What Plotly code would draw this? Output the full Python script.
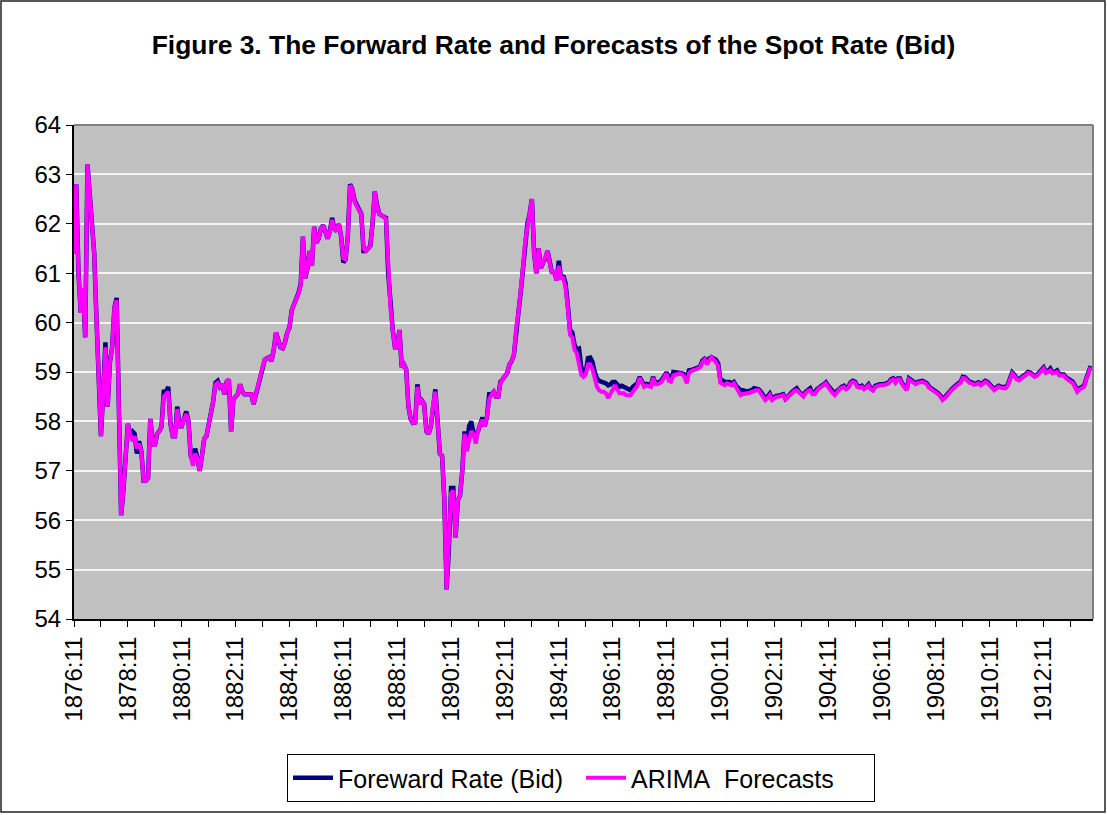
import plotly.graph_objects as go

# Monthly observations starting 1876:11
start_year, start_month = 1876, 11

forward_rate = [
    61.4, 62.8, 61.0, 60.2, 60.7, 59.7, 63.2, 62.6, 62.0, 61.4, 60.1, 58.7,
    57.7, 58.6, 59.6, 58.3, 59.2, 59.5, 60.3, 60.5, 57.9, 56.1, 56.6, 57.3,
    57.95, 57.75, 57.8, 57.75, 57.35, 57.6, 57.4, 56.8, 56.8, 56.85, 58.05,
    57.6, 57.5, 57.75, 57.8, 57.9, 58.6, 58.6, 58.7, 57.95, 57.7, 57.7, 58.3,
    57.9, 57.9, 58.05, 58.2, 58.0, 57.3, 57.2, 57.45, 57.25, 57.0, 57.3, 57.65,
    57.7, 57.95, 58.1, 58.4, 58.78, 58.82, 58.7, 58.75, 58.55, 58.8, 58.85, 57.8,
    58.45, 58.5, 58.55, 58.75, 58.6, 58.55, 58.55, 58.55, 58.55, 58.35, 58.55,
    58.7, 58.9, 59.1, 59.25, 59.28, 59.3, 59.22, 59.45, 59.8, 59.65, 59.5, 59.48,
    59.6, 59.8, 59.9, 60.25, 60.35, 60.45, 60.6, 60.78, 61.74, 60.9, 61.1, 61.45,
    61.15, 61.94, 61.62, 61.7, 61.9, 61.97, 61.85, 61.7, 61.85, 62.12, 61.9, 61.85,
    62.0, 61.75, 61.22, 61.28, 61.75, 62.8, 62.7, 62.48, 62.38, 62.27, 62.2, 61.45,
    61.45, 61.5, 61.55, 62.0, 62.65, 62.38, 62.2, 62.17, 62.15, 62.12, 61.0,
    60.3, 59.85, 59.5, 59.5, 59.85, 59.1, 59.15, 59.05, 58.3, 58.05, 57.97, 57.98,
    58.75, 58.35, 58.42, 58.35, 57.8, 57.75, 57.9, 58.35, 58.65, 58.0, 57.35, 57.3,
    56.4, 54.6, 55.4, 56.65, 56.65, 55.65, 56.4, 56.5, 57.0, 57.8, 57.4, 57.9,
    58.0, 57.75, 57.7, 57.8, 57.95, 58.08, 57.9, 58.1, 58.55, 58.55, 58.6,
    58.5, 58.5, 58.8, 58.85, 58.9, 58.98, 59.15, 59.22, 59.35, 59.9, 60.2, 60.6,
    61.1, 61.65, 62.0, 62.2, 62.5, 61.4, 61.0, 61.5, 61.1, 61.22, 61.3, 61.45,
    61.2, 61.0, 61.05, 60.85, 61.25, 60.9, 60.95, 60.8, 60.35, 59.85, 59.8, 59.55,
    59.45, 59.47, 59.1, 59.0, 59.0, 59.28, 59.29, 59.2, 59.0, 58.87, 58.82, 58.8,
    58.8, 58.77, 58.73, 58.75, 58.8, 58.8, 58.75, 58.7, 58.72, 58.7, 58.67,
    58.65, 58.63, 58.7, 58.73, 58.77, 58.9, 58.83, 58.73, 58.76, 58.75, 58.73, 58.9,
    58.78, 58.78, 58.8, 58.85, 58.92, 58.99, 58.9, 58.85, 59.0, 59.0, 58.98, 58.98,
    58.97, 58.95, 58.87, 59.03, 59.04, 59.05, 59.07, 59.09, 59.12, 59.23, 59.27, 59.23,
    59.27, 59.3, 59.27, 59.25, 59.17, 58.83, 58.83, 58.8, 58.8, 58.8, 58.77, 58.8,
    58.72, 58.67, 58.63, 58.63, 58.62, 58.6, 58.62, 58.63, 58.67, 58.67, 58.65,
    58.6, 58.55, 58.47, 58.5, 58.56, 58.46, 58.5, 58.52, 58.52, 58.54, 58.55, 58.46,
    58.52, 58.55, 58.6, 58.64, 58.67, 58.6, 58.56, 58.53, 58.6, 58.64, 58.67, 58.58,
    58.57, 58.65, 58.7, 58.72, 58.75, 58.79, 58.72, 58.66, 58.6, 58.56, 58.62, 58.67,
    58.7, 58.72, 58.67, 58.7, 58.79, 58.82, 58.8, 58.72, 58.7, 58.72, 58.67,
    58.7, 58.75, 58.67, 58.64, 58.72, 58.74, 58.75, 58.75, 58.75, 58.77, 58.79, 58.85,
    58.87, 58.8, 58.87, 58.87, 58.77, 58.7, 58.65, 58.87, 58.84, 58.8, 58.77, 58.8,
    58.82, 58.82, 58.8, 58.77, 58.7, 58.67, 58.65, 58.62, 58.57, 58.52, 58.46, 58.49,
    58.55, 58.6, 58.65, 58.69, 58.74, 58.77, 58.8, 58.9, 58.89, 58.84, 58.8, 58.79,
    58.76, 58.77, 58.79, 58.75, 58.79, 58.82, 58.8, 58.74, 58.69, 58.65, 58.69,
    58.72, 58.7, 58.69, 58.69, 58.74, 58.87, 58.99, 58.94, 58.87, 58.85, 58.9, 58.92,
    58.95, 59.0, 58.99, 58.95, 58.92, 58.94, 58.99, 59.05, 59.09, 59.0, 59.02, 59.07,
    58.99, 59.0, 59.03, 58.95, 58.95, 58.95, 58.89, 58.85, 58.82, 58.8, 58.72, 58.62,
    58.67, 58.69, 58.72, 58.87, 59.02, 59.12,
]

arima_forecasts = [
    61.4, 62.8, 61.0, 60.2, 60.7, 59.7, 63.2, 62.6, 62.0, 61.4, 60.1, 58.7,
    57.7, 58.55, 59.5, 58.3, 59.2, 59.5, 60.3, 60.45, 57.9, 56.1, 56.6, 57.3,
    57.95, 57.75, 57.6, 57.7, 57.45, 57.55, 57.4, 56.8, 56.8, 56.85, 58.05,
    57.6, 57.5, 57.75, 57.8, 57.9, 58.5, 58.55, 58.6, 57.95, 57.7, 57.7, 58.25,
    57.9, 57.9, 58.05, 58.15, 58.0, 57.3, 57.1, 57.35, 57.25, 57.0, 57.3, 57.65,
    57.7, 57.95, 58.1, 58.4, 58.75, 58.78, 58.7, 58.75, 58.55, 58.8, 58.85, 57.8,
    58.45, 58.5, 58.55, 58.75, 58.6, 58.55, 58.55, 58.55, 58.55, 58.35, 58.55,
    58.7, 58.9, 59.1, 59.25, 59.28, 59.3, 59.22, 59.45, 59.8, 59.65, 59.5, 59.48,
    59.6, 59.8, 59.9, 60.25, 60.35, 60.45, 60.58, 60.75, 61.74, 60.9, 61.1, 61.45,
    61.15, 61.94, 61.62, 61.7, 61.9, 61.97, 61.85, 61.7, 61.85, 62.08, 61.9, 61.85,
    62.0, 61.75, 61.3, 61.28, 61.75, 62.78, 62.7, 62.45, 62.35, 62.27, 62.2, 61.5,
    61.45, 61.5, 61.55, 62.0, 62.65, 62.35, 62.2, 62.17, 62.15, 62.1, 61.0,
    60.3, 59.85, 59.5, 59.5, 59.85, 59.1, 59.15, 59.05, 58.3, 58.05, 57.97, 57.98,
    58.7, 58.35, 58.42, 58.35, 57.8, 57.75, 57.9, 58.35, 58.6, 58.0, 57.35, 57.3,
    56.4, 54.6, 55.4, 56.55, 56.6, 55.65, 56.4, 56.5, 57.0, 57.75, 57.4, 57.6,
    57.8, 57.75, 57.55, 57.8, 57.95, 58.03, 57.9, 58.1, 58.45, 58.54, 58.6,
    58.5, 58.5, 58.78, 58.84, 58.9, 58.98, 59.15, 59.22, 59.35, 59.9, 60.2, 60.6,
    61.1, 61.65, 62.0, 62.2, 62.5, 61.4, 61.0, 61.5, 61.1, 61.22, 61.3, 61.45,
    61.2, 61.0, 61.05, 60.85, 61.15, 60.9, 60.9, 60.7, 60.3, 59.75, 59.7, 59.45,
    59.38, 59.15, 58.94, 58.9, 58.95, 59.15, 59.15, 59.05, 58.85, 58.7, 58.63, 58.6,
    58.6, 58.57, 58.47, 58.55, 58.67, 58.73, 58.65, 58.57, 58.57, 58.57, 58.53,
    58.53, 58.53, 58.6, 58.65, 58.72, 58.88, 58.8, 58.7, 58.73, 58.72, 58.7, 58.88,
    58.75, 58.75, 58.77, 58.82, 58.9, 58.97, 58.82, 58.8, 58.93, 58.95, 58.95, 58.97,
    58.95, 58.9, 58.77, 58.98, 59.02, 59.03, 59.05, 59.07, 59.1, 59.2, 59.25, 59.15,
    59.23, 59.3, 59.25, 59.2, 59.12, 58.78, 58.75, 58.73, 58.77, 58.75, 58.73, 58.77,
    58.68, 58.62, 58.53, 58.55, 58.57, 58.57, 58.58, 58.6, 58.62, 58.63, 58.63,
    58.57, 58.5, 58.43, 58.47, 58.53, 58.43, 58.47, 58.5, 58.5, 58.52, 58.53, 58.43,
    58.5, 58.53, 58.58, 58.62, 58.63, 58.58, 58.53, 58.5, 58.57, 58.62, 58.63, 58.55,
    58.55, 58.63, 58.68, 58.7, 58.73, 58.77, 58.7, 58.63, 58.57, 58.53, 58.6, 58.65,
    58.68, 58.7, 58.65, 58.68, 58.77, 58.8, 58.78, 58.7, 58.68, 58.7, 58.65,
    58.68, 58.73, 58.65, 58.62, 58.7, 58.72, 58.73, 58.73, 58.73, 58.75, 58.77, 58.83,
    58.85, 58.78, 58.85, 58.85, 58.75, 58.68, 58.63, 58.85, 58.82, 58.78, 58.75, 58.78,
    58.8, 58.8, 58.78, 58.75, 58.68, 58.65, 58.63, 58.6, 58.55, 58.5, 58.43, 58.47,
    58.53, 58.58, 58.63, 58.67, 58.72, 58.75, 58.78, 58.88, 58.87, 58.82, 58.78, 58.77,
    58.74, 58.75, 58.77, 58.73, 58.77, 58.8, 58.78, 58.72, 58.67, 58.63, 58.67,
    58.7, 58.68, 58.67, 58.67, 58.72, 58.85, 58.97, 58.92, 58.85, 58.83, 58.88, 58.9,
    58.93, 58.98, 58.97, 58.93, 58.9, 58.92, 58.97, 59.03, 59.07, 58.98, 59.0, 59.03,
    58.97, 58.98, 59.0, 58.93, 58.93, 58.93, 58.87, 58.83, 58.8, 58.78, 58.7, 58.6,
    58.65, 58.67, 58.7, 58.85, 59.0, 59.1,
]

n = len(forward_rate)
categories = []
for i in range(n):
    mm = start_month - 1 + i
    categories.append(f"{start_year + mm // 12}:{mm % 12 + 1}")

idx = list(range(n))
tick_vals = list(range(0, n, 12))
tick_text = [categories[v] if (v // 12) % 2 == 0 else "" for v in tick_vals]

FONT = "Arial, 'Liberation Sans', sans-serif"

fig = go.Figure()
fig.add_trace(go.Scatter(
    x=idx, y=forward_rate, mode="lines", name="Foreward Rate (Bid)",
    line=dict(color="#000080", width=4.5), customdata=categories,
    hovertemplate="%{customdata}: %{y}<extra></extra>",
))
fig.add_trace(go.Scatter(
    x=idx, y=arima_forecasts, mode="lines", name="ARIMA\u00a0 Forecasts",
    line=dict(color="#FF00FF", width=4), customdata=categories,
    hovertemplate="%{customdata}: %{y}<extra></extra>",
))

W, H = 1107, 815
L, R, T, B = 74, 14, 125, 196
pw, ph = W - L - R, H - T - B
def px(xp): return (xp - L) / pw
def py(yp): return (H - B - yp) / ph

shapes = []
for v in range(55, 64):
    shapes.append(dict(type="line", xref="paper", x0=0, x1=1, yref="y", y0=v, y1=v,
                       line=dict(color="#333333", width=1, dash="4px,15.5px"), layer="between"))
shapes.append(dict(type="line", xref="paper", yref="paper", x0=0, x1=1, y0=1, y1=1,
                   line=dict(color="#808080", width=2), layer="above"))
shapes.append(dict(type="line", xref="paper", yref="paper", x0=1, x1=1, y0=0, y1=1,
                   line=dict(color="#808080", width=2), layer="above"))
shapes.append(dict(type="rect", xref="paper", yref="paper",
                   x0=px(1), x1=px(1105), y0=py(812), y1=py(1),
                   line=dict(color="#222222", width=1.5), layer="above"))

fig.update_layout(
    width=W, height=H,
    margin=dict(l=L, r=R, t=T, b=B),
    paper_bgcolor="white",
    plot_bgcolor="#C0C0C0",
    font=dict(family=FONT, color="black", size=24),
    title=dict(text="<b>Figure 3. The Forward Rate and Forecasts of the Spot Rate (Bid)</b>",
               x=0.5, xanchor="center", y=1 - 45 / H, yanchor="middle",
               font=dict(family=FONT, size=26.4, color="black")),
    showlegend=True,
    legend=dict(orientation="h", x=px(581), xanchor="center", y=py(778), yanchor="middle",
                bgcolor="white", bordercolor="black", borderwidth=1,
                font=dict(family=FONT, size=25, color="black"),
                itemwidth=40, tracegroupgap=0, entrywidth=238, entrywidthmode="pixels"),
    shapes=shapes,
    xaxis=dict(range=[0, n], tickmode="array", tickvals=tick_vals, ticktext=tick_text,
               tickangle=-90, ticks="outside", ticklen=6, tickcolor="black", tickwidth=1,
               showgrid=False, zeroline=False, showline=True, linecolor="black", linewidth=2,
               tickfont=dict(family=FONT, size=24, color="black")),
    yaxis=dict(range=[54, 64], dtick=1, ticks="outside", ticklen=6, tickcolor="black", tickwidth=1,
               showgrid=True, gridcolor="#F4F4F4", gridwidth=1.5, zeroline=False,
               showline=True, linecolor="black", linewidth=2,
               tickfont=dict(family=FONT, size=24, color="black")),
)

fig.write_html("out.html", config={"displayModeBar": False},
               post_script="document.body.style.margin='0px';document.body.style.padding='0px';")
